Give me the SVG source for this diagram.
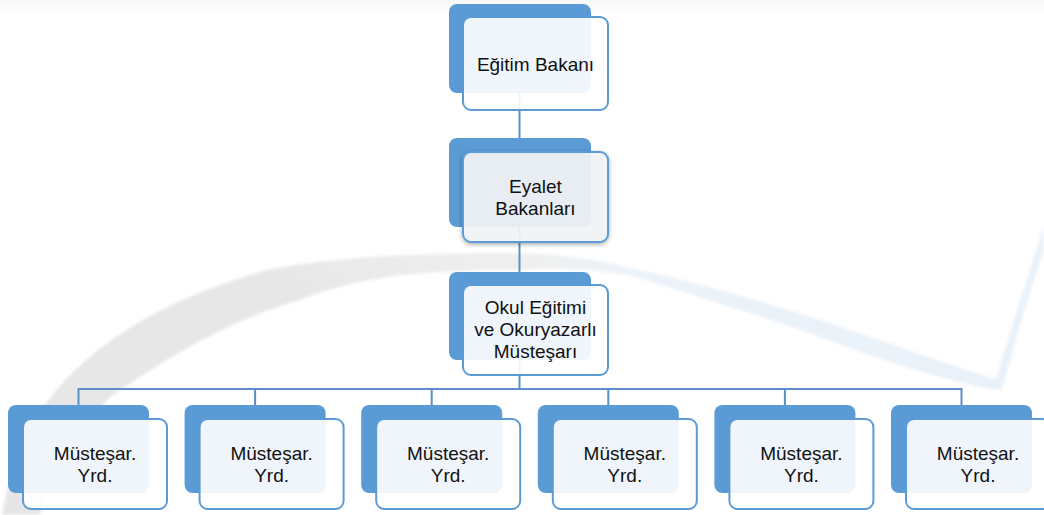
<svg xmlns="http://www.w3.org/2000/svg" width="1044" height="515" viewBox="0 0 1044 515">
  <defs>
    <style>
      .back { fill: #5B9BD5; }
      .front { fill: #FFFFFF; fill-opacity: 0.9; stroke: #5B9BD5; stroke-width: 2; }
      .front-hl { fill: #F5F6F8; fill-opacity: 0.9; stroke: #5B9BD5; stroke-width: 2; }
      .lbl { font-family: "Liberation Sans", Arial, sans-serif; font-size: 19px; fill: #111111; text-anchor: middle; }
      .conn { stroke: #5B8FC8; stroke-width: 2; fill: none; }
    </style>
    <linearGradient id="grayBand" x1="0" y1="1" x2="1" y2="0">
      <stop offset="0" stop-color="#E6E6E6"/>
      <stop offset="0.7" stop-color="#E7E7E7"/>
      <stop offset="1" stop-color="#EFEFEF"/>
    </linearGradient>
    <linearGradient id="blueBand" x1="0" y1="0" x2="1" y2="0">
      <stop offset="0" stop-color="#EFEFEF"/>
      <stop offset="0.25" stop-color="#EBF3F9"/>
      <stop offset="1" stop-color="#E8F1F9"/>
    </linearGradient>
    <linearGradient id="topStrip" x1="0" y1="0" x2="0" y2="1">
      <stop offset="0" stop-color="#F7F7F7"/>
      <stop offset="1" stop-color="#FFFFFF"/>
    </linearGradient>
    <filter id="soft" x="-5%" y="-5%" width="110%" height="110%">
      <feGaussianBlur stdDeviation="1.5"/>
    </filter>
    <filter id="shadow" x="-20%" y="-20%" width="140%" height="140%">
      <feDropShadow dx="0" dy="1.5" stdDeviation="2" flood-color="#000000" flood-opacity="0.35"/>
    </filter>
  </defs>

  <rect x="0" y="0" width="1044" height="515" fill="#FFFFFF"/>

  <g id="background">
    <rect x="0" y="0" width="1044" height="12" fill="url(#topStrip)"/>
    <g filter="url(#soft)">
      <path d="M2,515 C10,470 25,430 47,402 C90,345 160,300 267,270 C340,256 420,253 520,253 L520,270 C430,270 360,275 300,300 C230,320 170,355 110,397 C80,430 55,470 40,515 Z" fill="url(#grayBand)"/>
      <path d="M520,253 C560,254 600,260 630,268 C680,278 760,300 820,320 C880,340 950,365 998,380 L995,390 C950,382 880,360 820,337 C760,315 690,295 637,277 C600,270 560,267 520,270 Z" fill="url(#blueBand)"/>
      <path d="M993,388 C1005,350 1020,300 1038,245 L1044,225 L1044,250 C1030,290 1015,340 1002,390 Z" fill="#E8F1F9"/>
    </g>
  </g>

  <g id="connectors">
    <line class="conn" x1="519.5" y1="93" x2="519.5" y2="138"/>
    <line class="conn" x1="519.5" y1="227" x2="519.5" y2="272"/>
    <line class="conn" x1="519.5" y1="360" x2="519.5" y2="389"/>
    <line class="conn" x1="78.5" y1="389" x2="961.5" y2="389"/>
    <line class="conn" x1="78.5" y1="388" x2="78.5" y2="405"/>
    <line class="conn" x1="255.1" y1="389" x2="255.1" y2="405"/>
    <line class="conn" x1="431.7" y1="389" x2="431.7" y2="405"/>
    <line class="conn" x1="608.3" y1="389" x2="608.3" y2="405"/>
    <line class="conn" x1="784.9" y1="389" x2="784.9" y2="405"/>
    <line class="conn" x1="961.5" y1="388" x2="961.5" y2="405"/>
  </g>

  <g id="node-egitim-bakani">
    <rect class="back" x="449" y="4" width="142" height="89" rx="8"/>
    <rect class="front" x="463" y="17" width="145" height="93" rx="8"/>
    <text class="lbl" x="535.5" y="71">Eğitim Bakanı</text>
  </g>

  <g id="node-eyalet-bakanlari">
    <rect class="back" x="449" y="138" width="142" height="89" rx="8"/>
    <rect class="front-hl" x="463" y="152" width="145" height="90" rx="8" filter="url(#shadow)"/>
    <text class="lbl" x="535.5" y="193">Eyalet</text>
    <text class="lbl" x="535.5" y="215">Bakanları</text>
  </g>

  <g id="node-mustesar">
    <rect class="back" x="449" y="272" width="142" height="88" rx="8"/>
    <rect class="front" x="463" y="285" width="145" height="90" rx="8"/>
    <text class="lbl" x="535.5" y="314">Okul Eğitimi</text>
    <text class="lbl" x="535.5" y="336">ve Okuryazarlı</text>
    <text class="lbl" x="535.5" y="358">Müsteşarı</text>
  </g>

  <g id="node-yrd-1">
    <rect class="back" x="8" y="405" width="141" height="88" rx="8"/>
    <rect class="front" x="23" y="419" width="144" height="90" rx="8"/>
    <text class="lbl" x="95" y="460">Müsteşar.</text>
    <text class="lbl" x="95" y="482">Yrd.</text>
  </g>
  <g id="node-yrd-2">
    <rect class="back" x="184.6" y="405" width="141" height="88" rx="8"/>
    <rect class="front" x="199.6" y="419" width="144" height="90" rx="8"/>
    <text class="lbl" x="271.6" y="460">Müsteşar.</text>
    <text class="lbl" x="271.6" y="482">Yrd.</text>
  </g>
  <g id="node-yrd-3">
    <rect class="back" x="361.2" y="405" width="141" height="88" rx="8"/>
    <rect class="front" x="376.2" y="419" width="144" height="90" rx="8"/>
    <text class="lbl" x="448.2" y="460">Müsteşar.</text>
    <text class="lbl" x="448.2" y="482">Yrd.</text>
  </g>
  <g id="node-yrd-4">
    <rect class="back" x="537.8" y="405" width="141" height="88" rx="8"/>
    <rect class="front" x="552.8" y="419" width="144" height="90" rx="8"/>
    <text class="lbl" x="624.8" y="460">Müsteşar.</text>
    <text class="lbl" x="624.8" y="482">Yrd.</text>
  </g>
  <g id="node-yrd-5">
    <rect class="back" x="714.4" y="405" width="141" height="88" rx="8"/>
    <rect class="front" x="729.4" y="419" width="144" height="90" rx="8"/>
    <text class="lbl" x="801.4" y="460">Müsteşar.</text>
    <text class="lbl" x="801.4" y="482">Yrd.</text>
  </g>
  <g id="node-yrd-6">
    <rect class="back" x="891" y="405" width="141" height="88" rx="8"/>
    <rect class="front" x="906" y="419" width="144" height="90" rx="8"/>
    <text class="lbl" x="978" y="460">Müsteşar.</text>
    <text class="lbl" x="978" y="482">Yrd.</text>
  </g>
</svg>
